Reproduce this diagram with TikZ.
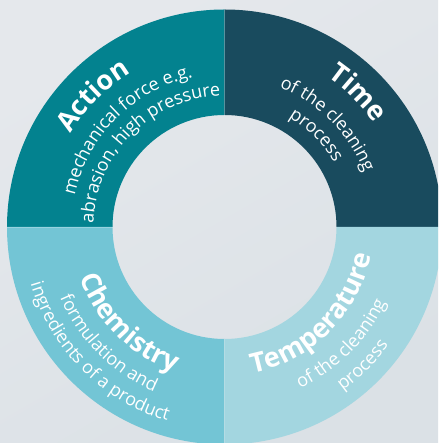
\documentclass[tikz,border=0pt]{standalone}
\usepackage{fontspec}
\setmainfont{Open Sans}
\usetikzlibrary{decorations.text}

\definecolor{action}{HTML}{03828F}
\definecolor{time}{HTML}{194B5E}
\definecolor{chemistry}{HTML}{73C5D5}
\definecolor{temperature}{HTML}{A3D6E0}
\definecolor{backlight}{HTML}{E5E8EC}
\definecolor{backdark}{HTML}{DBE1E6}

\newcommand{\headfont}{\bfseries\fontsize{27}{27}\selectfont\color{white}}
\newcommand{\bodyfont}{\fontsize{18}{18}\selectfont\color{white}}

\begin{document}
\begin{tikzpicture}[x=1pt,y=1pt,
    curved/.style={decorate,decoration={text along path,text align=center,text={#1}}}]

  \useasboundingbox (0,0) rectangle (438,443);
  \clip (0,0) rectangle (438,443);
  \shade[top color=backlight,bottom color=backdark,shading angle=30] (0,0) rectangle (438,443);

  \coordinate (c) at (224.5,216);

  % four quarters of the ring
  \foreach \from/\col in {90/action,0/time,180/chemistry,270/temperature}{
    \pgfmathsetmacro{\to}{\from+90}
    \fill[\col] (c) ++(\from:217.5pt) arc[start angle=\from,end angle=\to,radius=217.5pt]
      -- ++(\to:-105.5pt) arc[start angle=\to,end angle=\from,radius=112pt] -- cycle;
    \draw[white,opacity=.25,line width=.6pt] (c) ++(\from:112pt) -- ++(\from:105.5pt);
  }

  % Action
  \path[curved={|\headfont|Action}] (c) ++(200:180pt) arc[start angle=200,end angle=70,radius=180pt];
  \path[curved={|\bodyfont|mechanical force e.g.}] (c) ++(200:153pt) arc[start angle=200,end angle=70,radius=153pt];
  \path[curved={|\bodyfont|abrasion, high pressure}] (c) ++(205:131pt) arc[start angle=205,end angle=65,radius=131pt];

  % Time
  \path[curved={|\headfont|Time}] (c) ++(110:182pt) arc[start angle=110,end angle=-20,radius=182pt];
  \path[curved={|\bodyfont|of the cleaning}] (c) ++(110:150pt) arc[start angle=110,end angle=-20,radius=150pt];
  \path[curved={|\bodyfont|process}] (c) ++(110:127pt) arc[start angle=110,end angle=-20,radius=127pt];

  % Chemistry
  \path[curved={|\headfont|Chemistry}] (c) ++(160:153pt) arc[start angle=160,end angle=290,radius=153pt];
  \path[curved={|\bodyfont|formulation and}] (c) ++(160:179pt) arc[start angle=160,end angle=290,radius=179pt];
  \path[curved={|\bodyfont|ingredients of a product}] (c) ++(160:202pt) arc[start angle=160,end angle=290,radius=202pt];

  % Temperature
  \path[curved={|\headfont|Temperature}] (c) ++(250:149pt) arc[start angle=250,end angle=380,radius=149pt];
  \path[curved={|\bodyfont|of the cleaning}] (c) ++(250:178pt) arc[start angle=250,end angle=380,radius=178pt];
  \path[curved={|\bodyfont|process}] (c) ++(250:202pt) arc[start angle=250,end angle=380,radius=202pt];

\end{tikzpicture}
\end{document}
